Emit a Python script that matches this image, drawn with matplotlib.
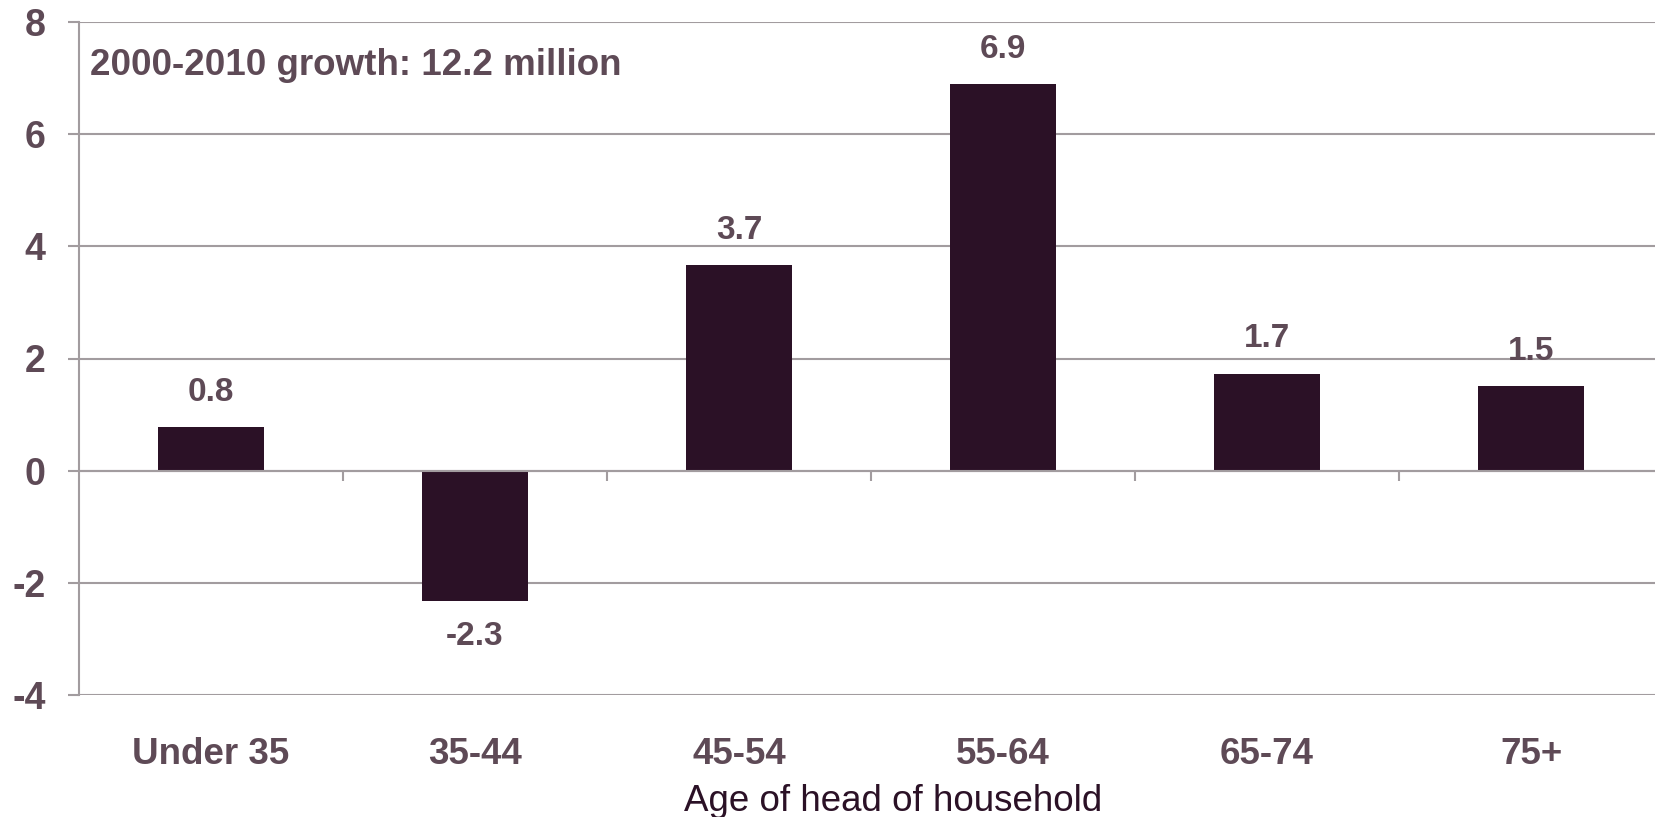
import matplotlib
matplotlib.use('Agg')
import matplotlib.pyplot as plt
import numpy as np

plt.rcParams['font.family'] = ['Liberation Sans', 'DejaVu Sans']

categories = ['Under 35', '35-44', '45-54', '55-64', '65-74', '75+']
growth = [0.77, -2.33, 3.66, 6.89, 1.73, 1.51]
yticks = [-4, -2, 0, 2, 4, 6, 8]
note = '2000-2010 growth: 12.2 million'

BAR = '#2b1126'
TXT = '#5e4a56'
GRID = '#a29c9f'

fig = plt.figure(figsize=(16.56, 8.17), dpi=100)
ax = fig.add_axes([79 / 1656, 122 / 817, 1584 / 1656, 673 / 817])

x = np.arange(len(categories))
ax.bar(x, growth, width=0.4, color=BAR, zorder=3)

for xi, v in zip(x, growth):
    if v >= 0:
        ax.annotate('%.1f' % v, (xi, v), xytext=(0, 14), textcoords='offset points',
                    ha='center', va='bottom', fontsize=24, fontweight='bold', color=TXT)
    else:
        ax.annotate('%.1f' % v, (xi, v), xytext=(0, -14), textcoords='offset points',
                    ha='center', va='top', fontsize=24, fontweight='bold', color=TXT)

ax.set_xlim(-0.5, len(categories) - 0.5)
ax.set_ylim(-4, 8)
ax.set_yticks(yticks)
ax.set_yticklabels([str(t) for t in yticks])
ax.grid(axis='y', color=GRID, linewidth=1.5, zorder=0)
ax.axhline(0, color=GRID, linewidth=1.5, zorder=4)
ax.vlines(x[:-1] + 0.5, -0.19, 0, color=GRID, linewidth=1.5, zorder=4)

ax.set_xticks(x)
ax.set_xticklabels(categories)
ax.tick_params(axis='x', length=0, pad=30, labelsize=26.5, labelcolor=TXT)
ax.tick_params(axis='y', length=8, width=1.5, color=GRID, pad=16, labelsize=27, labelcolor=TXT)
for lab in ax.get_xticklabels() + ax.get_yticklabels():
    lab.set_fontweight('bold')

for s in ['top', 'right', 'bottom']:
    ax.spines[s].set_visible(False)
ax.spines['left'].set_color(GRID)
ax.spines['left'].set_linewidth(1.5)

ax.set_xlabel('Age of head of household', fontsize=26.5, color=BAR)
ax.xaxis.set_label_coords(0.514, -0.132)
ax.text(0.007, 0.936, note, transform=ax.transAxes, ha='left', va='center',
        fontsize=26.5, fontweight='bold', color=TXT)

fig.savefig('out.png', dpi=100)
